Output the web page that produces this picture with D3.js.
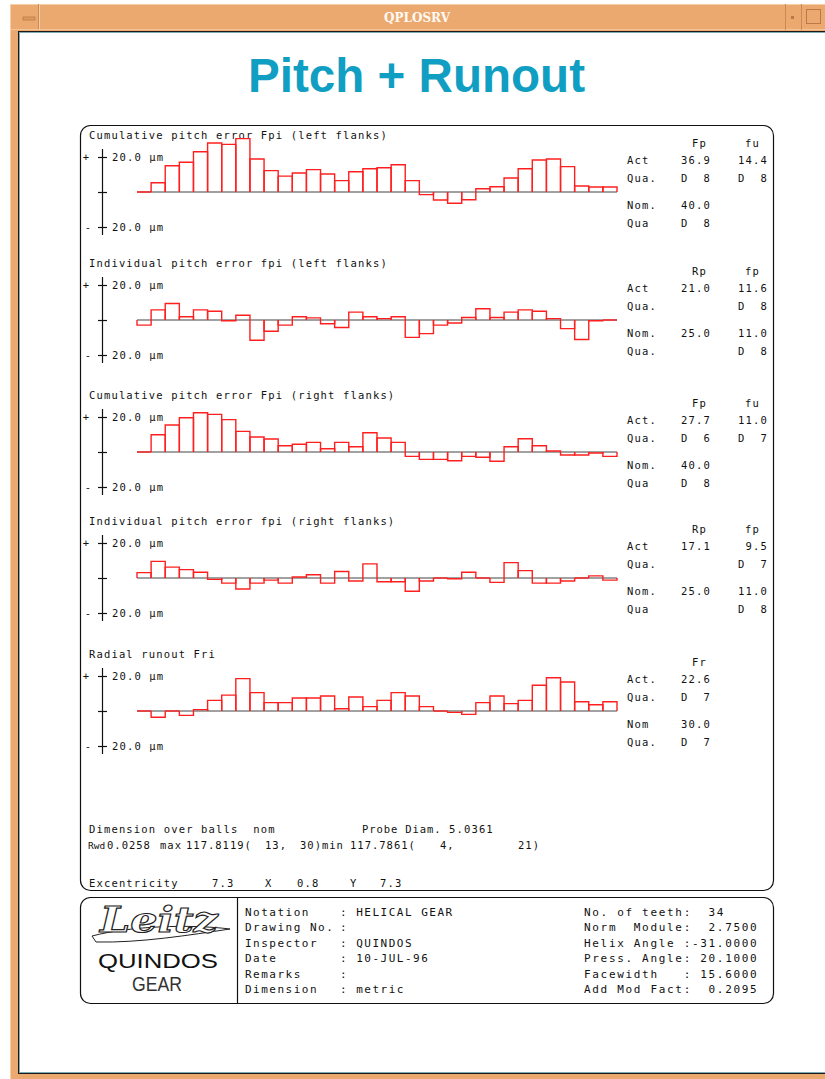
<!DOCTYPE html>
<html>
<head>
<meta charset="utf-8">
<script src="https://cdn.jsdelivr.net/npm/d3@7"></script>
<style>
  html, body { margin: 0; padding: 0; background: #fff; }
  svg { display: block; }
  text { white-space: pre; }
</style>
</head>
<body>
<div id="chart"></div>
<script>
// ---- gear data: 34 teeth, deviations in µm ----
const teeth = d3.range(1, 35);

const cumLeft  = [0, 5.3, 15.0, 17.0, 23.0, 28.0, 27.2, 30.5, 18.9, 12.2, 9.1, 10.9, 12.8, 10.3, 6.5, 11.6, 13.3,
                  13.9, 15.6, 6.5, -1.5, -4.6, -6.4, -4.4, 1.9, 3.0, 8.0, 13.3, 18.3, 18.9, 14.5, 3.4, 2.9, 2.9];
const indLeft  = [-2.9, 5.8, 9.4, 1.9, 5.8, 5.0, -0.4, 2.7, -11.6, -6.4, -2.9, 1.9, 1.2, -2.1, -4.3, 4.5, 1.9,
                  0.8, 1.9, -9.9, -7.8, -2.9, -1.7, 1.4, 6.4, 1.4, 4.5, 5.8, 5.0, 0.8, -4.9, -11.1, -0.4, 0];
const cumRight = [0, 9.9, 15.4, 19.6, 22.4, 21.5, 18.5, 11.8, 8.6, 7.4, 3.6, 4.4, 5.5, 1.9, 5.5, 3.0, 11.0,
                  8.0, 5.5, -2.5, -4.2, -4.2, -5.0, -2.5, -3.0, -5.3, 3.0, 7.6, 3.6, 0.6, -1.7, -1.7, -0.6, -2.5];
const indRight = [3.1, 9.5, 6.2, 4.8, 3.3, -0.8, -2.9, -6.3, -2.9, -1.2, -2.9, 0.6, 1.9, -2.9, 3.7, -1.7, 8.1,
                  -2.1, -2.1, -7.6, -1.7, 0, -0.4, 3.3, 0, -2.5, 8.8, 4.2, -2.9, -2.9, -1.7, 0, 1.2, -1.2];
const runout   = [0, -3.6, 0, -2.5, 0.8, 6.1, 9.1, 18.5, 10.5, 4.8, 4.8, 7.4, 7.4, 8.6, 1.3, 8.0, 2.5,
                  6.1, 10.5, 8.6, 2.5, 0, -0.8, -1.9, 4.8, 8.6, 4.2, 6.1, 14.7, 19.0, 16.6, 5.3, 3.6, 5.3];

const panelSeries = [cumLeft, indLeft, cumRight, indRight, runout];
const panelTitles = [
  "Cumulative pitch error Fpi (left flanks)",
  "Individual pitch error fpi (left flanks)",
  "Cumulative pitch error Fpi (right flanks)",
  "Individual pitch error fpi (right flanks)",
  "Radial runout Fri"
];
const scaleLimit = 20;           // ±20.0 µm reference marks
const scaleLabel = "20.0 µm";

// evaluation table beside each graph
const statHeads = [["Fp", "fu"], ["Rp", "fp"], ["Fp", "fu"], ["Rp", "fp"], ["Fr", ""]];
const statRows = [
  ["Act", "Qua.", "Nom.", "Qua"],
  ["Act", "Qua.", "Nom.", "Qua."],
  ["Act.", "Qua.", "Nom.", "Qua"],
  ["Act", "Qua.", "Nom.", "Qua"],
  ["Act.", "Qua.", "Nom", "Qua."]
];
const statCol1 = [
  ["36.9", "D  8", "40.0", "D  8"],
  ["21.0", "", "25.0", ""],
  ["27.7", "D  6", "40.0", "D  8"],
  ["17.1", "", "25.0", ""],
  ["22.6", "D  7", "30.0", "D  7"]
];
const statCol2 = [
  ["14.4", "D  8", "", ""],
  ["11.6", "D  8", "11.0", "D  8"],
  ["11.0", "D  7", "", ""],
  ["9.5", "D  7", "11.0", "D  8"],
  ["", "", "", ""]
];

// dimension over balls / eccentricity
const dobLine1 = [["Dimension over balls  nom", 89], ["Probe Diam.", 362], ["5.0361", 449]];
const dobLine2 = [["Rwd", 88], ["0.0258", 107], ["max", 160], ["117.8119(", 186], ["13,", 265], ["30)min", 300],
                  ["117.7861(", 350], ["4,", 440], ["21)", 518]];
const eccLine  = [["Excentricity", 89], ["7.3", 212], ["X", 265], ["0.8", 297], ["Y", 350], ["7.3", 380]];

// header block
const headLabels = ["Notation", "Drawing No.", "Inspector", "Date", "Remarks", "Dimension"];
const headValues = [": HELICAL GEAR", ":", ": QUINDOS", ": 10-JUL-96", ":", ": metric"];
const gearParams = ["No. of teeth:  34", "Norm  Module:  2.7500", "Helix Angle :-31.0000",
                    "Press. Angle: 20.1000", "Facewidth   : 15.6000", "Add Mod Fact:  0.2095"];

// ---------------------------------------------------------------
const W = 825, H = 1079;
const mono = "'DejaVu Sans Mono', 'Liberation Mono', monospace";
const svg = d3.select("#chart").append("svg").attr("width", W).attr("height", H);

// window frame
const orange = "#eca96f";
svg.append("rect").attr("x", 0).attr("y", 0).attr("width", W).attr("height", H).attr("fill", "#ffffff");
svg.append("rect").attr("x", 10).attr("y", 4).attr("width", W - 10).attr("height", H - 4).attr("fill", orange);
svg.append("line").attr("x1", 10.5).attr("x2", 10.5).attr("y1", 4).attr("y2", H).attr("stroke", "#f6cfa9");
svg.append("line").attr("x1", 10).attr("x2", W).attr("y1", 4.5).attr("y2", 4.5).attr("stroke", "#f6cfa9");
svg.append("line").attr("x1", 38.5).attr("x2", 38.5).attr("y1", 4).attr("y2", 30).attr("stroke", "#c98a55");
svg.append("line").attr("x1", 39.5).attr("x2", 39.5).attr("y1", 4).attr("y2", 30).attr("stroke", "#f6cfa9");
svg.append("line").attr("x1", 10).attr("x2", W).attr("y1", 29.5).attr("y2", 29.5).attr("stroke", "#f3c497");
svg.append("rect").attr("x", 23).attr("y", 17).attr("width", 12).attr("height", 3)
  .attr("fill", "#e49a5c").attr("stroke", "#b77a48").attr("stroke-width", 0.8);
svg.append("line").attr("x1", 785.5).attr("x2", 785.5).attr("y1", 4).attr("y2", 30).attr("stroke", "#c98a55");
svg.append("rect").attr("x", 791).attr("y", 16).attr("width", 3).attr("height", 3).attr("fill", "#b77a48");
svg.append("line").attr("x1", 801.5).attr("x2", 801.5).attr("y1", 4).attr("y2", 30).attr("stroke", "#c98a55");
svg.append("rect").attr("x", 806.5).attr("y", 9.5).attr("width", 14).attr("height", 14)
  .attr("fill", "none").attr("stroke", "#b77a48");
svg.append("text").attr("x", 417).attr("y", 22).attr("text-anchor", "middle")
  .attr("font-family", "'DejaVu Serif', 'Liberation Serif', serif").attr("font-weight", "bold")
  .attr("font-size", 12).attr("fill", "#fffaf3").text("QPLOSRV");
// client area
svg.append("rect").attr("x", 18).attr("y", 31).attr("width", W - 18).attr("height", 1043)
  .attr("fill", "#1a1a1a");
svg.append("rect").attr("x", 19.5).attr("y", 32.5).attr("width", W - 19).attr("height", 1040)
  .attr("fill", "#ffffff").attr("stroke", "#7fa9b4").attr("stroke-width", 1);

// title
svg.append("text").attr("x", 248).attr("y", 92)
  .attr("font-family", "'Liberation Sans Narrow', 'Liberation Sans', Arial, sans-serif")
  .attr("font-weight", "bold").attr("font-size", 48).attr("fill", "#109ec2")
  .attr("textLength", 337).attr("lengthAdjust", "spacingAndGlyphs")
  .text("Pitch + Runout");

// outer frames
svg.append("rect").attr("x", 80.5).attr("y", 125.5).attr("width", 693).attr("height", 765)
  .attr("rx", 10).attr("fill", "none").attr("stroke", "#111").attr("stroke-width", 1.2);
svg.append("rect").attr("x", 80.5).attr("y", 897.5).attr("width", 693).attr("height", 106)
  .attr("rx", 10).attr("fill", "none").attr("stroke", "#111").attr("stroke-width", 1.2);
svg.append("line").attr("x1", 237.5).attr("x2", 237.5).attr("y1", 898).attr("y2", 1003)
  .attr("stroke", "#111").attr("stroke-width", 1.2);

// shared tooth scale
const x = d3.scaleBand().domain(teeth).range([137, 617]).paddingInner(0).paddingOuter(0);
const zeroY = [192, 320, 452, 578, 711];
const half = 35;

function txt(g, s, xx, yy, opt = {}) {
  return g.append("text").attr("x", xx).attr("y", yy)
    .attr("font-family", mono).attr("font-size", opt.size || 10.5)
    .attr("letter-spacing", opt.ls != null ? opt.ls : 1.15)
    .attr("dominant-baseline", "central")
    .attr("text-anchor", opt.anchor || "start")
    .attr("fill", opt.fill || "#111")
    .text(s);
}

panelSeries.forEach((series, i) => {
  const z = zeroY[i];
  const g = svg.append("g");
  const y = d3.scaleLinear().domain([-scaleLimit, scaleLimit]).range([z + half, z - half]);

  txt(g, panelTitles[i], 89, z - 57);

  // vertical scale with crossing ticks
  g.append("line").attr("x1", 102.5).attr("x2", 102.5)
    .attr("y1", y(scaleLimit) - 8).attr("y2", y(-scaleLimit) + 8)
    .attr("stroke", "#111").attr("stroke-width", 1.2);
  const ax = g.append("g").attr("transform", "translate(107,0)")
    .call(d3.axisLeft(y).tickValues([-scaleLimit, 0, scaleLimit]).tickSize(9).tickSizeOuter(0).tickFormat(""));
  ax.select(".domain").remove();
  ax.selectAll(".tick line").attr("stroke", "#111").attr("stroke-width", 1.2);

  txt(g, "+", 86, y(scaleLimit), { anchor: "middle", ls: 0 });
  txt(g, "-", 88, y(-scaleLimit), { anchor: "middle", ls: 0 });
  txt(g, scaleLabel, 112, y(scaleLimit));
  txt(g, scaleLabel, 112, y(-scaleLimit));

  // zero line
  g.append("line").attr("x1", x.range()[0]).attr("x2", x.range()[1])
    .attr("y1", y(0)).attr("y2", y(0)).attr("stroke", "#444").attr("stroke-width", 1.1);

  // one open step per tooth (left, top, right edges)
  g.append("g").selectAll("path").data(teeth).join("path")
    .attr("d", (t, k) => {
      const x0 = x(t), x1 = x(t) + x.bandwidth(), y0 = y(0), y1 = y(series[k]);
      return `M${x0},${y0}V${y1}H${x1}V${y0}`;
    })
    .attr("fill", "none").attr("stroke", "#ff1f1f").attr("stroke-width", 1.4)
    .attr("stroke-linejoin", "miter");

  // evaluation table
  const rowOff = [-32, -14, 13, 31];
  txt(g, statHeads[i][0], 707, z - 49, { anchor: "end" });
  if (statHeads[i][1]) txt(g, statHeads[i][1], 760, z - 49, { anchor: "end" });
  statRows[i].forEach((lab, r) => {
    txt(g, lab, 627, z + rowOff[r]);
    if (statCol1[i][r]) txt(g, statCol1[i][r], 711, z + rowOff[r], { anchor: "end" });
    if (statCol2[i][r]) txt(g, statCol2[i][r], 768, z + rowOff[r], { anchor: "end" });
  });
});

// dimension over balls lines
const bottom = svg.append("g");
dobLine1.forEach(([s, xx]) => txt(bottom, s, xx, 829, { ls: s === "Probe Diam." ? 0.9 : 1.15 }));
dobLine2.forEach(([s, xx]) => txt(bottom, s, xx, 845,
  s === "Rwd" ? { ls: 0, size: 9.5 } : { ls: 1.0 }));
eccLine.forEach(([s, xx]) => txt(bottom, s, xx, 883));

// header block
const head = svg.append("g");
const rowY = d3.range(6).map(k => 912 + k * 15.5);
headLabels.forEach((s, k) => txt(head, s, 245, rowY[k], { size: 11, ls: 1.5 }));
headValues.forEach((s, k) => txt(head, s, 340, rowY[k], { size: 11, ls: 1.5 }));
gearParams.forEach((s, k) => txt(head, s, 584, rowY[k], { size: 11, ls: 1.68 }));

// maker mark
const logo = svg.append("g");
logo.append("path")
  .attr("d", "M92,936 C130,926 190,924 230,929 C190,935 140,943 96,942 Z")
  .attr("fill", "none").attr("stroke", "#222").attr("stroke-width", 1);
logo.append("text").attr("x", 100).attr("y", 932)
  .attr("font-family", "'DejaVu Serif', 'Liberation Serif', serif").attr("font-style", "italic")
  .attr("font-weight", "bold").attr("font-size", 36).attr("fill", "#fff")
  .attr("stroke", "#222").attr("stroke-width", 1.1)
  .attr("textLength", 118).attr("lengthAdjust", "spacingAndGlyphs").text("Leitz");
logo.append("text").attr("x", 158).attr("y", 968).attr("text-anchor", "middle")
  .attr("font-family", "'Liberation Sans Narrow', 'Liberation Sans', sans-serif")
  .attr("font-size", 21).attr("fill", "#111")
  .attr("textLength", 120).attr("lengthAdjust", "spacingAndGlyphs").text("QUINDOS");
logo.append("text").attr("x", 157).attr("y", 991).attr("text-anchor", "middle")
  .attr("font-family", "'Liberation Sans Narrow', 'Liberation Sans', sans-serif")
  .attr("font-size", 20).attr("fill", "#333")
  .attr("textLength", 50).attr("lengthAdjust", "spacingAndGlyphs").text("GEAR");
</script>
</body>
</html>
